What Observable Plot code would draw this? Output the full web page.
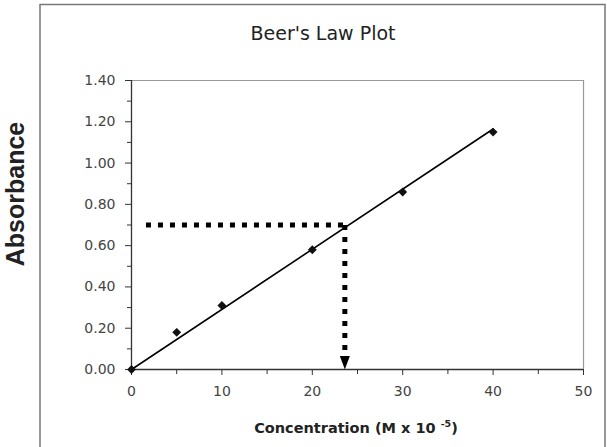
<!DOCTYPE html>
<html><head><meta charset="utf-8">
<script src="https://cdn.jsdelivr.net/npm/d3@7"></script>
<script src="https://cdn.jsdelivr.net/npm/@observablehq/plot@0.6"></script>
<style>
body{margin:0;background:#fff}
#chart{position:relative;width:607px;height:447px;overflow:hidden;background:#fff}
</style>
</head><body><div id="chart"></div>
<script>
// ---- data ----
const concentration = [0, 5, 10, 20, 30, 40];
const absorbance = [0, 0.18, 0.31, 0.58, 0.86, 1.15];
const fitConcentration = [0, 40];
const fitAbsorbance = [0, 1.165];
const readAbsorbance = 0.70;
const readStartConcentration = 1.6;
const readConcentration = 23.6;
const arrowTopAbsorbance = 0.08;
const xTicks = [0, 10, 20, 30, 40, 50];
const xTickLabels = ["0", "10", "20", "30", "40", "50"];
const xMinorTicks = [5, 15, 25, 35, 45];
const yTicks = [0, 0.2, 0.4, 0.6, 0.8, 1.0, 1.2, 1.4];
const yTickLabels = ["0.00", "0.20", "0.40", "0.60", "0.80", "1.00", "1.20", "1.40"];
const yMinorTicks = [0.1, 0.3, 0.5, 0.7, 0.9, 1.1, 1.3];
const titleText = "Beer's Law Plot";
const yLabelText = "Absorbance";
const xLabelMain = "Concentration (M x 10 ";
const xLabelSup = "-5";
const xLabelEnd = ")";

const points = concentration.map((c, i) => ({c, a: absorbance[i]}));
const fit = fitConcentration.map((c, i) => ({c, a: fitAbsorbance[i]}));
const hLine = [{c: readStartConcentration, a: readAbsorbance}, {c: readConcentration, a: readAbsorbance}];
const vLine = [{c: readConcentration, a: readAbsorbance}, {c: readConcentration, a: arrowTopAbsorbance}];

const arrowDown = {
  draw(ctx, size) {
    const r = Math.sqrt(size / Math.PI);
    const w = r, h = r * 2.7;
    ctx.moveTo(-w, -h); ctx.lineTo(w, -h); ctx.lineTo(0, 0); ctx.closePath();
  }
};

const axisColor = "#333";
const labelColor = "#444";

const chart = Plot.plot({
  width: 607,
  height: 447,
  marginLeft: 131,
  marginRight: 24,
  marginTop: 80,
  marginBottom: 78,
  style: {fontFamily: "DejaVu Sans", fontSize: "14px", background: "#fff", overflow: "visible"},
  x: {domain: [0, 50]},
  y: {domain: [0, 1.4]},
  marks: [
    Plot.ruleY([1.4], {stroke: "#999", strokeWidth: 1.2}),
    Plot.ruleX([50], {stroke: "#999", strokeWidth: 1.2}),
    Plot.axisX({ticks: xTicks, tickSize: 6, fill: "none", stroke: axisColor, label: null}),
    Plot.axisX({ticks: xMinorTicks, tickSize: 5, fill: "none", stroke: axisColor, label: null}),
    Plot.axisX({ticks: xTicks, tickSize: 0, tickPadding: 17, tickFormat: (d, i) => xTickLabels[i], fill: labelColor, fontSize: 14, label: null}),
    Plot.axisY({ticks: yTicks, tickSize: 6, fill: "none", stroke: axisColor, label: null}),
    Plot.axisY({ticks: yMinorTicks, tickSize: 4, fill: "none", stroke: axisColor, label: null}),
    Plot.axisY({ticks: yTicks, tickSize: 0, tickPadding: 16, tickFormat: (d, i) => yTickLabels[i], fill: labelColor, fontSize: 14, label: null}),
    Plot.ruleX([0], {stroke: axisColor, strokeWidth: 1.3}),
    Plot.ruleY([0], {stroke: axisColor, strokeWidth: 1.3}),
    Plot.line(hLine, {x: "c", y: "a", stroke: "#000", strokeWidth: 5, strokeDasharray: "5 7", strokeLinecap: "butt"}),
    Plot.line(vLine, {x: "c", y: "a", stroke: "#000", strokeWidth: 5, strokeDasharray: "5 7", strokeLinecap: "butt"}),
    Plot.dot([{c: readConcentration, a: 0}], {x: "c", y: "a", r: 5, symbol: arrowDown, fill: "#000", stroke: "none"}),
    Plot.line(fit, {x: "c", y: "a", stroke: "#000", strokeWidth: 1.6}),
    Plot.dot(points, {x: "c", y: "a", r: 4, symbol: "diamond2", fill: "#111", stroke: "none"})
  ]
});

const svg = d3.select(chart);
svg.append("rect")
  .attr("x", 40).attr("y", 4.5).attr("width", 565).attr("height", 470)
  .attr("fill", "none").attr("stroke", "#777").attr("stroke-width", 1.5);
svg.append("text")
  .attr("x", 323).attr("y", 40)
  .attr("text-anchor", "middle")
  .attr("font-family", "DejaVu Sans").attr("font-size", 19).attr("fill", "#222")
  .text(titleText);
svg.append("text")
  .attr("transform", "translate(23.5,194) rotate(-90)")
  .attr("text-anchor", "middle")
  .attr("font-family", "Liberation Sans, Arial, sans-serif").attr("font-weight", "bold")
  .attr("font-size", 25).attr("fill", "#222")
  .text(yLabelText);
const xl = svg.append("text")
  .attr("x", 356).attr("y", 433)
  .attr("text-anchor", "middle")
  .attr("font-family", "DejaVu Sans").attr("font-weight", "bold")
  .attr("font-size", 14.5).attr("fill", "#222");
xl.append("tspan").text(xLabelMain);
xl.append("tspan").attr("dy", -6).attr("font-size", 9.5).text(xLabelSup);
xl.append("tspan").attr("dy", 6).text(xLabelEnd);

document.getElementById("chart").appendChild(chart);
</script>
</body></html>
